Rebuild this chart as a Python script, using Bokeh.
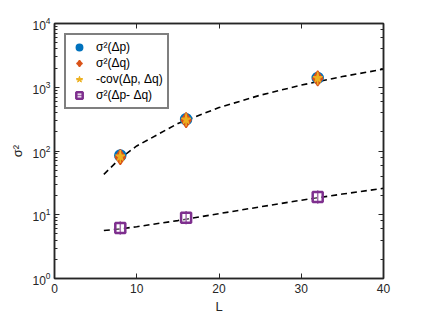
import math
from bokeh.plotting import figure
from bokeh.models import LinearAxis, LogAxis, Legend, LegendItem, Range1d, FixedTicker, CustomJSTickFormatter
from bokeh.embed import file_html
from bokeh.resources import INLINE

# data
L_pts = [8, 16, 32]
var_dp = [85, 315, 1400]
var_dq = [80, 305, 1380]
cov_pq = [82, 310, 1390]
var_diff = [6.2, 9.0, 19.0]

L_fit = [6, 8, 10, 15, 20, 25, 30, 35, 40]
fit_top = [43, 77, 120, 270, 480, 750, 1080, 1470, 1920]
fit_bot = [5.65, 6.0, 6.5, 8.1, 10.4, 13.3, 16.9, 21.1, 26.0]

x_ticks = [0, 10, 20, 30, 40]

FONT = "Liberation Sans"
AX = "#262626"

p = figure(width=407, height=316, output_backend="svg", toolbar_location=None,
           y_axis_type="log", x_range=Range1d(0, 40), y_range=Range1d(1, 1e4),
           min_border_left=54, min_border_right=24, min_border_top=23, min_border_bottom=35)
p.grid.visible = False
p.outline_line_color = AX
p.outline_line_width = 1.5
p.background_fill_color = "white"
p.border_fill_color = "white"

def style_axis(ax):
    ax.axis_line_color = AX
    ax.axis_line_width = 1.5
    ax.major_tick_line_color = AX
    ax.minor_tick_line_color = AX
    ax.major_tick_in = 5
    ax.major_tick_out = 0
    ax.minor_tick_in = 3
    ax.minor_tick_out = 0
    ax.major_label_text_font = FONT
    ax.major_label_text_font_size = "12px"
    ax.major_label_text_color = AX
    ax.axis_label_text_font = FONT
    ax.axis_label_text_font_size = "13px"
    ax.axis_label_text_font_style = "normal"
    ax.axis_label_text_color = AX

p.xaxis.ticker = FixedTicker(ticks=x_ticks)
p.xaxis.axis_label = "L"
p.xaxis.axis_label_standoff = 3
p.xaxis.major_label_standoff = 5
p.yaxis.axis_label = "σ²"
p.yaxis.axis_label_standoff = 4
p.yaxis.major_label_standoff = 4
style_axis(p.xaxis[0])
style_axis(p.yaxis[0])
p.xaxis.minor_tick_line_color = None

top = LinearAxis(ticker=FixedTicker(ticks=x_ticks), formatter=CustomJSTickFormatter(code="return ''"))
style_axis(top)
top.major_label_standoff = 0
top.minor_tick_line_color = None
p.add_layout(top, "above")
right = LogAxis(formatter=CustomJSTickFormatter(code="return ''"))
style_axis(right)
right.major_label_standoff = 0
p.add_layout(right, "right")

# fitted dashed curves
p.line(L_fit, fit_top, line_color="black", line_width=1.6, line_dash="6 4")
p.line(L_fit, fit_bot, line_color="black", line_width=1.6, line_dash="6 4")

series = [
    (var_dp, "circle", 11, "#0072BD", "#0072BD", 1.0, 1.5),
    (var_dq, "diamond", 15, "#D95319", "#D95319", 1.0, 1.5),
    (cov_pq, "star", 10, "#EDB120", "#EDB120", 1.0, 1.0),
    (var_diff, "square", 10, "white", "#7E2F8E", 0.3, 2.5),
]
labels = ["σ²(Δp)", "σ²(Δq)", "-cov(Δp, Δq)", "σ²(Δp- Δq)"]
items = []
for (vals, mk, sz, fc, lc, fa, lw), lab in zip(series, labels):
    eb = p.scatter(L_pts, vals, marker="dash", angle=math.pi / 2, size=13,
                   line_color=lc, line_width=1.5)
    r = p.scatter(L_pts, vals, marker=mk, size=sz, fill_color=fc, fill_alpha=fa,
                  line_color=lc, line_width=lw)
    items.append(LegendItem(label=lab, renderers=[eb, r]))

legend = Legend(items=items, location="top_left")
legend.margin = 10
legend.padding = 4
legend.spacing = 0
legend.label_text_font = FONT
legend.label_text_font_size = "12px"
legend.label_text_color = "black"
legend.label_height = 16
legend.glyph_height = 16
legend.glyph_width = 18
legend.label_standoff = 8
legend.border_line_color = "black"
legend.border_line_width = 2
legend.background_fill_color = "white"
legend.background_fill_alpha = 1
p.add_layout(legend)

open("out.html", "w").write(file_html(p, INLINE))
